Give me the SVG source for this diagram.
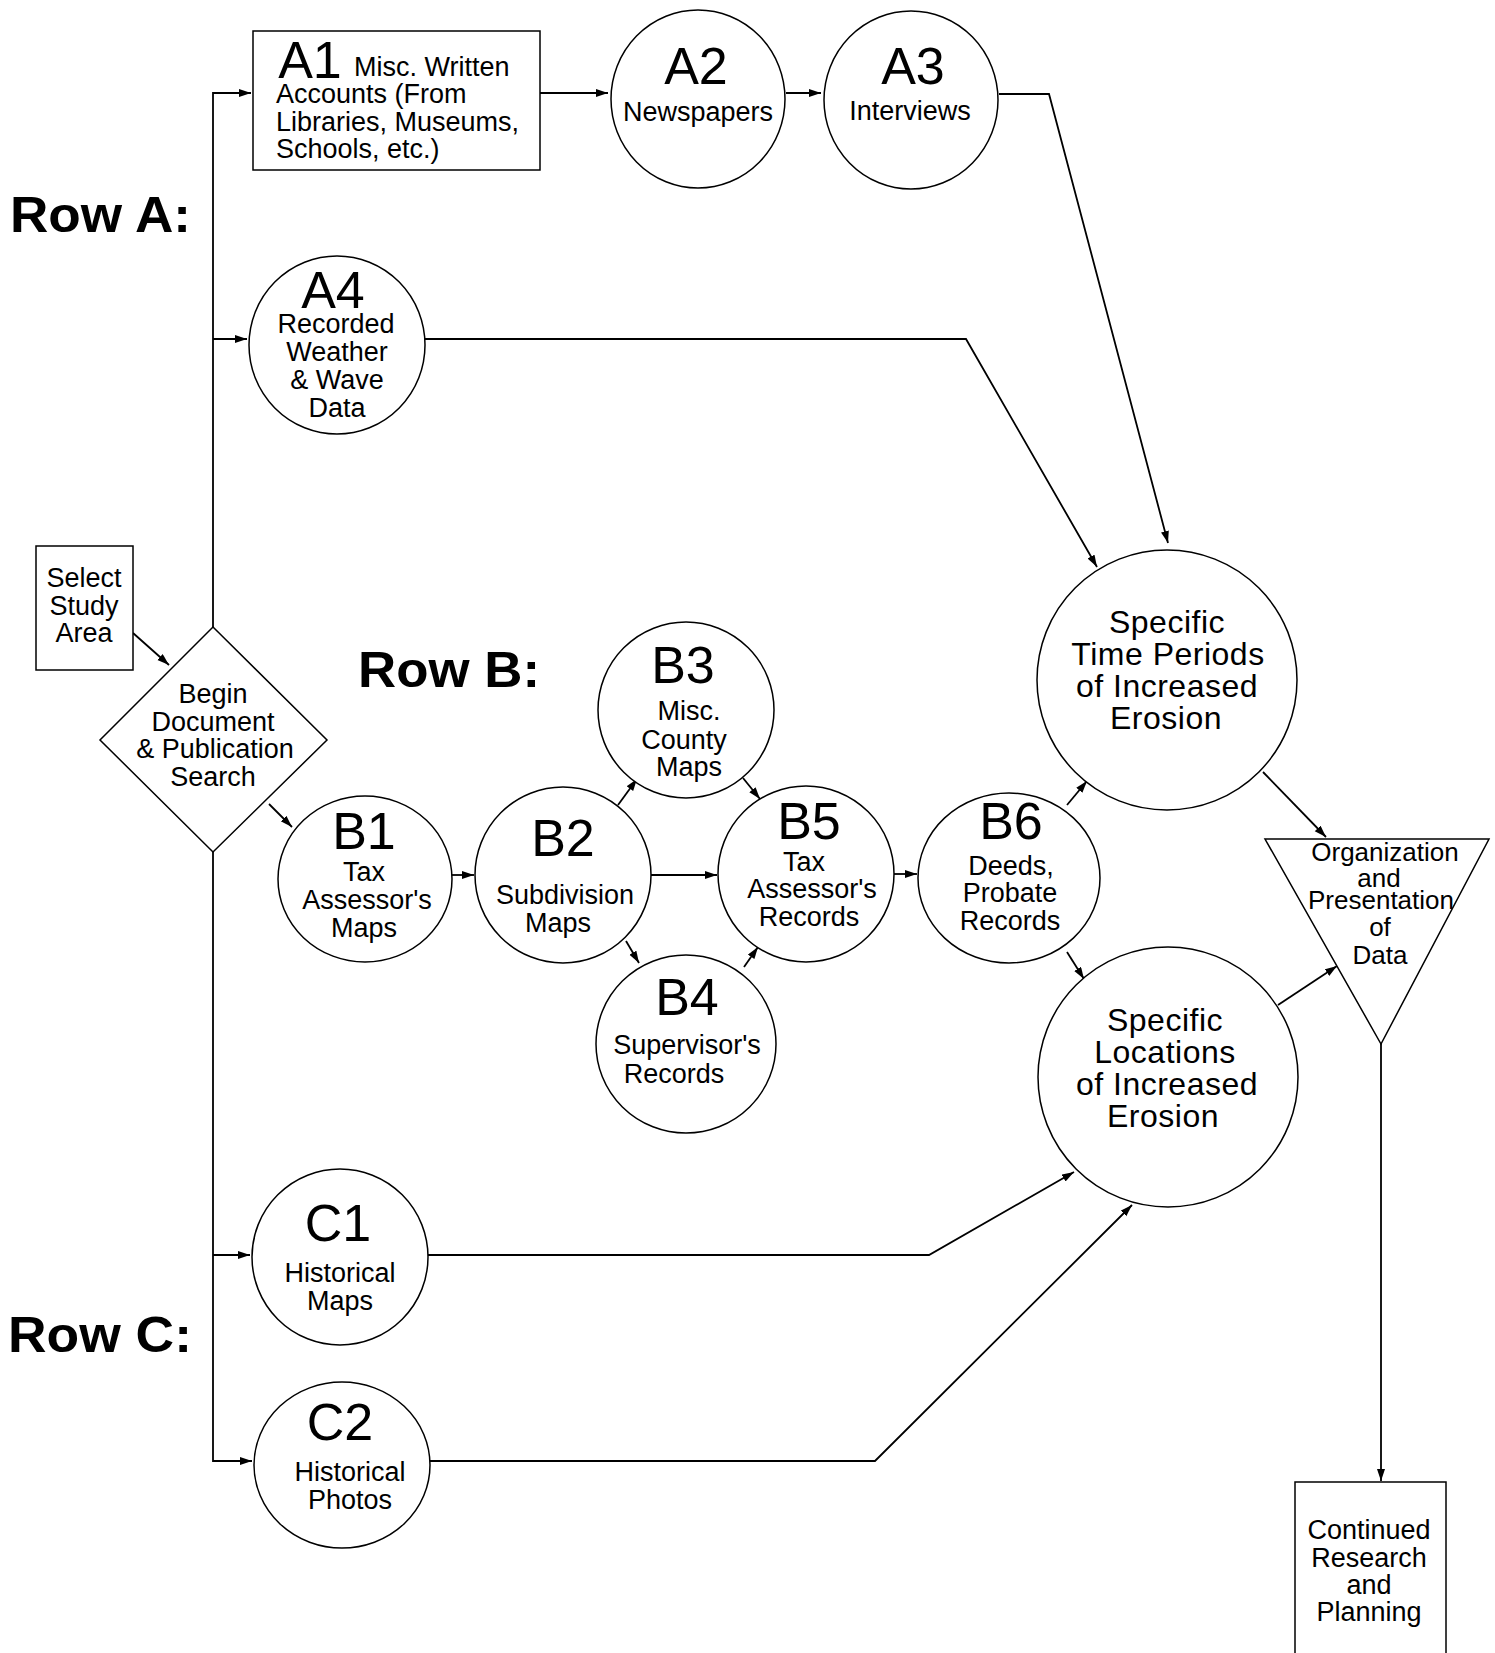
<svg xmlns="http://www.w3.org/2000/svg" width="1495" height="1653" viewBox="0 0 1495 1653">
<style>
.n{fill:#fff;stroke:#000;stroke-width:1.5}
.c{fill:none;stroke:#000;stroke-width:1.8}
text{font-family:"Liberation Sans",Arial,sans-serif;fill:#000;text-anchor:middle}
.t{font-size:27px}
.big{font-size:52px}
.lg{font-size:32px;letter-spacing:0.5px}
.row{font-size:50px;font-weight:bold;text-anchor:start}
</style>
<defs>
<marker id="ar" markerUnits="userSpaceOnUse" markerWidth="14" markerHeight="10" refX="12" refY="4" orient="auto">
<path d="M0,0 L12,4 L0,8 Z" fill="#000"/>
</marker>
</defs>
<rect width="1495" height="1653" fill="#fff"/>

<g id="connectors">
<path class="c" d="M213,627 V93 H251" marker-end="url(#ar)"/>
<path class="c" d="M213,339 H247" marker-end="url(#ar)"/>
<path class="c" d="M213,852 V1461 H252" marker-end="url(#ar)"/>
<path class="c" d="M213,1255 H250" marker-end="url(#ar)"/>
<path class="c" d="M540,93 H608" marker-end="url(#ar)"/>
<path class="c" d="M786,93 H821" marker-end="url(#ar)"/>
<path class="c" d="M999,94 H1049 L1168,543" marker-end="url(#ar)"/>
<path class="c" d="M425,339 H966 L1097,567" marker-end="url(#ar)"/>
<path class="c" d="M133,633 L169,665" marker-end="url(#ar)"/>
<path class="c" d="M269,804 L292,827" marker-end="url(#ar)"/>
<path class="c" d="M451,875 H474" marker-end="url(#ar)"/>
<path class="c" d="M618,805 L637,779" marker-end="url(#ar)"/>
<path class="c" d="M743,778 L760,799" marker-end="url(#ar)"/>
<path class="c" d="M651,875 H717" marker-end="url(#ar)"/>
<path class="c" d="M626,941 L639,963" marker-end="url(#ar)"/>
<path class="c" d="M744,967 L758,947" marker-end="url(#ar)"/>
<path class="c" d="M894,874 H917" marker-end="url(#ar)"/>
<path class="c" d="M1067,805 L1087,781" marker-end="url(#ar)"/>
<path class="c" d="M1067,952 L1084,979" marker-end="url(#ar)"/>
<path class="c" d="M1263,772 L1326,837" marker-end="url(#ar)"/>
<path class="c" d="M1278,1005 L1337,966" marker-end="url(#ar)"/>
<path class="c" d="M1381,1044 V1481" marker-end="url(#ar)"/>
<path class="c" d="M428,1255 H929 L1074,1172" marker-end="url(#ar)"/>
<path class="c" d="M430,1461 H875 L1132,1205" marker-end="url(#ar)"/>
</g>

<text class="row" x="10" y="232" textLength="181" lengthAdjust="spacingAndGlyphs">Row A:</text>
<text class="row" x="358" y="687" textLength="182" lengthAdjust="spacingAndGlyphs">Row B:</text>
<text class="row" x="8" y="1352" textLength="184" lengthAdjust="spacingAndGlyphs">Row C:</text>

<g id="A1">
<rect class="n" x="253" y="31" width="287" height="139"/>
<text class="big" x="310" y="78">A1</text>
<text class="t" style="text-anchor:start" x="354" y="76">Misc. Written</text>
<text class="t" style="text-anchor:start" x="276" y="103">Accounts (From</text>
<text class="t" style="text-anchor:start" x="276" y="131">Libraries, Museums,</text>
<text class="t" style="text-anchor:start" x="276" y="158">Schools, etc.)</text>
</g>
<g id="A2">
<ellipse class="n" cx="698" cy="99" rx="87" ry="89"/>
<text class="big" x="696" y="84">A2</text>
<text class="t" x="698" y="121">Newspapers</text>
</g>
<g id="A3">
<ellipse class="n" cx="911" cy="100" rx="87" ry="89"/>
<text class="big" x="913" y="84">A3</text>
<text class="t" x="910" y="120">Interviews</text>
</g>
<g id="A4">
<ellipse class="n" cx="337" cy="345" rx="88" ry="89"/>
<text class="big" x="333" y="308">A4</text>
<text class="t" x="336" y="333">Recorded</text>
<text class="t" x="337" y="361">Weather</text>
<text class="t" x="337" y="389">&amp; Wave</text>
<text class="t" x="337" y="417">Data</text>
</g>
<g id="select">
<rect class="n" x="36" y="546" width="97" height="124"/>
<text class="t" x="84" y="587">Select</text>
<text class="t" x="84" y="615">Study</text>
<text class="t" x="84" y="642">Area</text>
</g>
<g id="begin">
<polygon class="n" points="213,627 327,740 213,852 100,740"/>
<text class="t" x="213" y="703">Begin</text>
<text class="t" x="213" y="731">Document</text>
<text class="t" x="215" y="758">&amp; Publication</text>
<text class="t" x="213" y="786">Search</text>
</g>
<g id="B1">
<ellipse class="n" cx="365" cy="879" rx="87" ry="83"/>
<text class="big" x="364" y="849">B1</text>
<text class="t" x="364" y="881">Tax</text>
<text class="t" x="367" y="909">Assessor's</text>
<text class="t" x="364" y="937">Maps</text>
</g>
<g id="B2">
<ellipse class="n" cx="563" cy="875" rx="88" ry="88"/>
<text class="big" x="563" y="856">B2</text>
<text class="t" x="565" y="904">Subdivision</text>
<text class="t" x="558" y="932">Maps</text>
</g>
<g id="B3">
<ellipse class="n" cx="686" cy="710" rx="88" ry="88"/>
<text class="big" x="683" y="683">B3</text>
<text class="t" x="689" y="720">Misc.</text>
<text class="t" x="684" y="749">County</text>
<text class="t" x="689" y="776">Maps</text>
</g>
<g id="B4">
<ellipse class="n" cx="686" cy="1044" rx="90" ry="89"/>
<text class="big" x="687" y="1015">B4</text>
<text class="t" x="687" y="1054">Supervisor's</text>
<text class="t" x="674" y="1083">Records</text>
</g>
<g id="B5">
<ellipse class="n" cx="806" cy="874" rx="88" ry="88"/>
<text class="big" x="809" y="839">B5</text>
<text class="t" x="804" y="871">Tax</text>
<text class="t" x="812" y="898">Assessor's</text>
<text class="t" x="809" y="926">Records</text>
</g>
<g id="B6">
<ellipse class="n" cx="1009" cy="878" rx="91" ry="85"/>
<text class="big" x="1011" y="839">B6</text>
<text class="t" x="1011" y="875">Deeds,</text>
<text class="t" x="1010" y="902">Probate</text>
<text class="t" x="1010" y="930">Records</text>
</g>
<g id="time">
<ellipse class="n" cx="1167" cy="680" rx="130" ry="130"/>
<text class="lg" x="1167" y="633">Specific</text>
<text class="lg" x="1168" y="665">Time Periods</text>
<text class="lg" x="1167" y="697">of Increased</text>
<text class="lg" x="1166" y="729">Erosion</text>
</g>
<g id="locations">
<ellipse class="n" cx="1168" cy="1077" rx="130" ry="130"/>
<text class="lg" x="1165" y="1031">Specific</text>
<text class="lg" x="1165" y="1063">Locations</text>
<text class="lg" x="1167" y="1095">of Increased</text>
<text class="lg" x="1163" y="1127">Erosion</text>
</g>
<g id="organization">
<polygon class="n" points="1265,839 1489,839 1381,1044"/>
<text class="t" x="1385" y="861" style="font-size:26px">Organization</text>
<text class="t" x="1379" y="887" style="font-size:26px">and</text>
<text class="t" x="1381" y="909" style="font-size:26px">Presentation</text>
<text class="t" x="1380" y="936" style="font-size:26px">of</text>
<text class="t" x="1380" y="964" style="font-size:26px">Data</text>
</g>
<g id="continued">
<rect class="n" x="1295" y="1482" width="151" height="180"/>
<text class="t" x="1369" y="1539">Continued</text>
<text class="t" x="1369" y="1567">Research</text>
<text class="t" x="1369" y="1594">and</text>
<text class="t" x="1369" y="1621">Planning</text>
</g>
<g id="C1">
<ellipse class="n" cx="340" cy="1257" rx="88" ry="88"/>
<text class="big" x="338" y="1241">C1</text>
<text class="t" x="340" y="1282">Historical</text>
<text class="t" x="340" y="1310">Maps</text>
</g>
<g id="C2">
<ellipse class="n" cx="342" cy="1465" rx="88" ry="83"/>
<text class="big" x="340" y="1440">C2</text>
<text class="t" x="350" y="1481">Historical</text>
<text class="t" x="350" y="1509">Photos</text>
</g>
</svg>
